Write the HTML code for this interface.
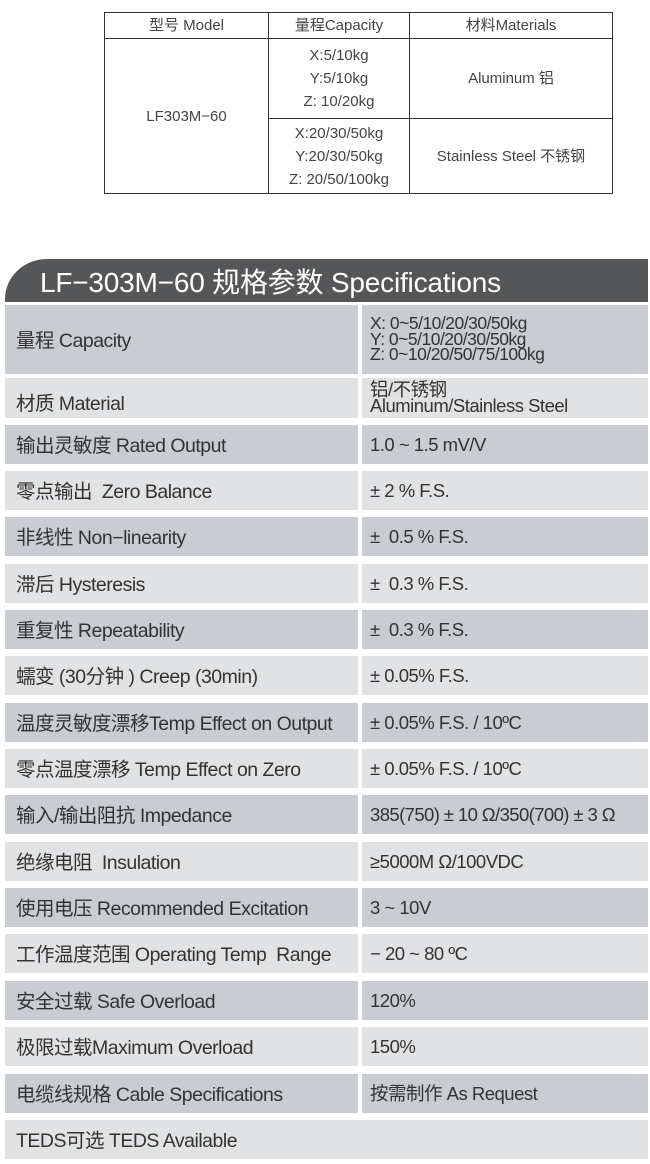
<!DOCTYPE html>
<html><head><meta charset="utf-8"><style>
body{margin:0;width:650px;height:1164px;background:#fff;position:relative;overflow:hidden;font-family:"Liberation Sans","Noto Sans CJK SC",sans-serif;color:#333}
table.t{position:absolute;left:104px;top:12px;width:509px;height:182px;border-collapse:collapse;font-size:15px;color:#444;text-align:center}
table.t td{border:1.5px solid #333;padding:0;line-height:23px}
.hd{position:absolute;left:5px;top:259px;width:643px;height:43px;background:#555658;border-top-left-radius:42px 40px;color:#fff;font-size:28px;line-height:48px;box-sizing:border-box;padding-left:35px;letter-spacing:-0.2px}
.r{position:absolute;left:5px;width:643px}
.l,.v{position:absolute;top:0;height:100%;display:flex;align-items:center;box-sizing:border-box;font-size:19.5px;letter-spacing:-0.5px;padding-bottom:2px}
.l{left:0;width:353px;padding-left:11px}
.v{left:357px;width:286px;padding-left:8px;font-size:18.5px;line-height:16px;padding-bottom:0}
.d .l,.d .v{background:#c9ccd1}
.g .l,.g .v{background:#e0e2e4}
</style></head><body>
<table class="t">
<tr style="height:26px"><td style="width:163px">型号 Model</td><td style="width:140px">量程Capacity</td><td>材料Materials</td></tr>
<tr><td rowspan="2">LF303M−60</td><td style="height:79px">X:5/10kg<br>Y:5/10kg<br>Z: 10/20kg</td><td>Aluminum 铝</td></tr>
<tr><td style="height:74px">X:20/30/50kg<br>Y:20/30/50kg<br>Z: 20/50/100kg</td><td>Stainless Steel 不锈钢</td></tr>
</table>
<div class="hd">LF−303M−60 规格参数 Specifications</div>
<div class="r d" style="top:305px;height:69px"><div class="l">量程 Capacity</div><div class="v" style="line-height:15.5px;font-size:17.5px">X: 0~5/10/20/30/50kg<br>Y: 0~5/10/20/30/50kg<br>Z: 0~10/20/50/75/100kg</div></div>
<div class="r g" style="top:378px;height:40px"><div class="l" style="padding-top:6px;padding-bottom:0">材质 Material</div><div class="v">铝/不锈钢<br>Aluminum/Stainless Steel</div></div>
<div class="r d" style="top:425px;height:39px"><div class="l">输出灵敏度 Rated Output</div><div class="v">1.0 ~ 1.5 mV/V</div></div>
<div class="r g" style="top:471px;height:39px"><div class="l">零点输出&nbsp; Zero Balance</div><div class="v">± 2 % F.S.</div></div>
<div class="r d" style="top:517px;height:39px"><div class="l">非线性 Non−linearity</div><div class="v">± &nbsp;0.5 % F.S.</div></div>
<div class="r g" style="top:564px;height:39px"><div class="l">滞后 Hysteresis</div><div class="v">± &nbsp;0.3 % F.S.</div></div>
<div class="r d" style="top:610px;height:39px"><div class="l">重复性 Repeatability</div><div class="v">± &nbsp;0.3 % F.S.</div></div>
<div class="r g" style="top:656px;height:39px"><div class="l">蠕变 (30分钟 ) Creep (30min)</div><div class="v">± 0.05% F.S.</div></div>
<div class="r d" style="top:703px;height:39px"><div class="l">温度灵敏度漂移Temp Effect on Output</div><div class="v">± 0.05% F.S. / 10ºC</div></div>
<div class="r g" style="top:749px;height:39px"><div class="l">零点温度漂移 Temp Effect on Zero</div><div class="v">± 0.05% F.S. / 10ºC</div></div>
<div class="r d" style="top:795px;height:39px"><div class="l">输入/输出阻抗 Impedance</div><div class="v" style="letter-spacing:-0.6px">385(750) ± 10 Ω/350(700) ± 3 Ω</div></div>
<div class="r g" style="top:842px;height:39px"><div class="l">绝缘电阻&nbsp; Insulation</div><div class="v">≥5000M Ω/100VDC</div></div>
<div class="r d" style="top:888px;height:39px"><div class="l">使用电压 Recommended Excitation</div><div class="v">3 ~ 10V</div></div>
<div class="r g" style="top:934px;height:39px"><div class="l">工作温度范围 Operating Temp&nbsp; Range</div><div class="v">− 20 ~ 80 ºC</div></div>
<div class="r d" style="top:981px;height:39px"><div class="l">安全过载 Safe Overload</div><div class="v">120%</div></div>
<div class="r g" style="top:1027px;height:39px"><div class="l">极限过载Maximum Overload</div><div class="v">150%</div></div>
<div class="r d" style="top:1074px;height:39px"><div class="l">电缆线规格 Cable Specifications</div><div class="v">按需制作 As Request</div></div>
<div class="r g" style="top:1120px;height:39px"><div class="l" style="width:643px;background:#e0e2e4">TEDS可选 TEDS Available</div></div>
</body></html>
